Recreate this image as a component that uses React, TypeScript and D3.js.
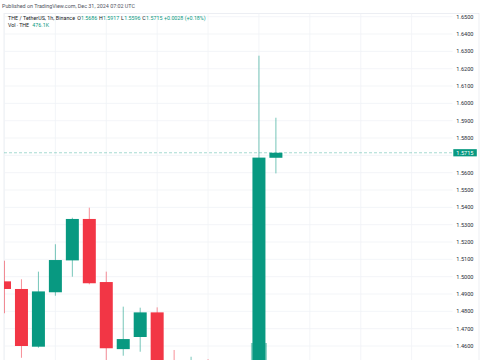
import React from "react";
import * as d3 from "d3";

const opens = [1.4973, 1.4929, 1.4596, 1.4910, 1.5094, 1.5333, 1.4969, 1.4582, 1.4652, 1.4794, 1.4420, 1.4370, 1.4420, 1.4400, 1.4430, 1.4450, 1.5686];
const highs = [1.5092, 1.4985, 1.5029, 1.5187, 1.5340, 1.5398, 1.5029, 1.4827, 1.4821, 1.4823, 1.4577, 1.4538, 1.4524, 1.4500, 1.4490, 1.6275, 1.5917];
const lows = [1.4789, 1.4532, 1.4590, 1.4890, 1.5000, 1.4956, 1.4500, 1.4544, 1.4567, 1.4380, 1.4330, 1.4310, 1.4350, 1.4360, 1.4380, 1.4420, 1.5596];
const closes = [1.4929, 1.4600, 1.4915, 1.5096, 1.5333, 1.4962, 1.4587, 1.4640, 1.4794, 1.4420, 1.4380, 1.4420, 1.4400, 1.4430, 1.4450, 1.5687, 1.5715];
const volumesK = [820, 1350, 1100, 1250, 1600, 1500, 1900, 900, 1000, 1700, 1300, 1100, 800, 700, 900, 9600, 476.1];
const priceTicks = d3.range(146, 166).map((v) => v / 100);
const lastPrice = 1.5715;
const changeText = "+0.0028";
const changePct = "(+0.18%)";
const lastVolume = "476.1K";

const GREEN = "#089981";
const RED = "#F23645";
const FONT = "Roboto, 'Noto Sans', sans-serif";

export default function App() {
  const W = 485, H = 360;
  const paneL = 4, paneR = 452.5, paneT = 13.3, paneB = 360;
  const x = d3.scaleLinear().domain([0, 16]).range([4.5, 275.9]);
  const y = d3.scaleLinear().domain([1.46, 1.65]).range([346, 16.7]);
  const yv = d3.scaleLinear().domain([0, d3.max(volumesK) as number]).range([400, 343]);
  const bodyW = 13;
  const volW = 16;
  const vGridIdx = d3.range(0, 27, 3);
  const fmt = d3.format(".4f");
  const last = opens.length - 1;
  const lf = 5.3;
  const ly = 19.9;

  return (
    <svg width={W} height={H} style={{ position: "absolute", left: 0, top: 0, background: "#fff" }} fontFamily={FONT}>
      <defs>
        <clipPath id="pane">
          <rect x={paneL} y={paneT} width={paneR - paneL} height={paneB - paneT} />
        </clipPath>
      </defs>
      <rect x={0} y={0} width={W} height={H} fill="#fff" />
      <text x={2} y={8.3} fontSize={5.4} fill="#50535e" textLength={133}>Published on TradingView.com, Dec 31, 2024 07:02 UTC</text>
      <rect x={paneL} y={paneT} width={479 - paneL} height={H} fill="none" stroke="#e0e3eb" strokeWidth={0.6} />
      <g stroke="#f0f2f6" strokeWidth={0.8}>
        {priceTicks.map((t) => (
          <line key={"h" + t} x1={paneL} x2={paneR} y1={y(t)} y2={y(t)} />
        ))}
        {vGridIdx.map((i) => (
          <line key={"v" + i} x1={x(i)} x2={x(i)} y1={paneT} y2={paneB} />
        ))}
      </g>
      <g clipPath="url(#pane)">
        {volumesK.map((v, i) => (
          <rect key={"vol" + i} x={x(i) - volW / 2} y={yv(v)} width={volW} height={400 - yv(v)}
            fill={closes[i] >= opens[i] ? GREEN : RED} opacity={0.45} />
        ))}
        {opens.map((o, i) => (
          <line key={"w" + i} x1={x(i)} x2={x(i)} y1={y(highs[i])} y2={y(lows[i])}
            stroke={closes[i] >= o ? GREEN : RED} strokeWidth={1} opacity={0.55} />
        ))}
        {opens.map((o, i) => {
          const c = closes[i];
          const top = y(Math.max(o, c));
          const h = Math.max(1, y(Math.min(o, c)) - top);
          return (
            <rect key={"b" + i} x={x(i) - bodyW / 2} y={top} width={bodyW} height={h}
              fill={c >= o ? GREEN : RED} />
          );
        })}
        <line x1={paneL} x2={paneR} y1={y(lastPrice)} y2={y(lastPrice)} stroke={GREEN} strokeOpacity={0.45}
          strokeWidth={0.8} strokeDasharray="3 2" />
      </g>
      <g fontSize={5.6} fill="#2a2e39" textAnchor="end">
        {priceTicks.filter((t) => Math.abs(y(t) - y(lastPrice)) > 6).map((t) => (
          <text key={"l" + t} x={473.5} y={y(t) + 2}>{fmt(t)}</text>
        ))}
      </g>
      <rect x={453.3} y={y(lastPrice) - 3.6} width={23.5} height={7.2} fill={GREEN} />
      <text x={473.5} y={y(lastPrice) + 2} fontSize={5.6} fill="#fff" textAnchor="end">{fmt(lastPrice)}</text>
      <g fontSize={lf} fill="#131722">
        <text x={8} y={ly} textLength={67}>THE / TetherUS, 1h, Binance</text>
        <text x={77.3} y={ly}>O</text>
        <text x={81} y={ly} fill={GREEN}>{fmt(opens[last])}</text>
        <text x={99} y={ly}>H</text>
        <text x={103} y={ly} fill={GREEN}>{fmt(highs[last])}</text>
        <text x={121} y={ly}>L</text>
        <text x={124.2} y={ly} fill={GREEN}>{fmt(lows[last])}</text>
        <text x={142.3} y={ly}>C</text>
        <text x={146.1} y={ly} fill={GREEN}>{fmt(closes[last])}</text>
        <text x={164} y={ly} fill={GREEN}>{changeText}</text>
        <text x={184.7} y={ly} fill={GREEN}>{changePct}</text>
        <text x={8} y={27.4} textLength={21}>Vol · THE</text>
        <text x={32.3} y={27.4} fill={GREEN} textLength={16.7}>{lastVolume}</text>
      </g>
    </svg>
  );
}
